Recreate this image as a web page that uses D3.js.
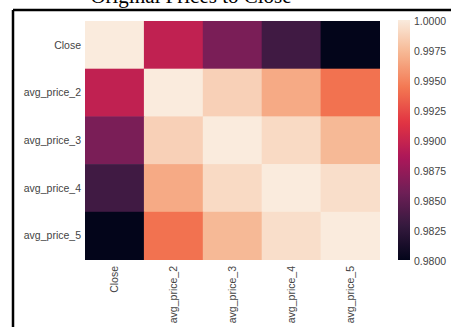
<!DOCTYPE html>
<html><head><meta charset="utf-8">
<script src="https://cdn.jsdelivr.net/npm/d3@7"></script>
<style>body{margin:0;background:#fff}svg{display:block}</style>
</head><body>
<svg id="c" width="451" height="327"></svg>
<script>
const rowLabels = ["Close","avg_price_2","avg_price_3","avg_price_4","avg_price_5"];
const colLabels = ["Close","avg_price_2","avg_price_3","avg_price_4","avg_price_5"];
const rowClose = [1.0000, 0.9896, 0.9862, 0.9834, 0.9800];
const rowAvg2  = [0.9896, 1.0000, 0.9986, 0.9967, 0.9941];
const rowAvg3  = [0.9862, 0.9986, 1.0000, 0.9991, 0.9974];
const rowAvg4  = [0.9834, 0.9967, 0.9991, 1.0000, 0.9993];
const rowAvg5  = [0.9800, 0.9941, 0.9974, 0.9993, 1.0000];
const matrix = [rowClose,rowAvg2,rowAvg3,rowAvg4,rowAvg5];
const cbTicks = [0.9800,0.9825,0.9850,0.9875,0.9900,0.9925,0.9950,0.9975,1.0000];
const title = "Original Prices to Close";
const rocketStops = ["#03051A","#35193E","#701F57","#AD1759","#E13342","#F37651","#F6B48F","#FAEBDD"];

const svg = d3.select("#c");
const vmin = 0.98, vmax = 1.0;
const rocket = d3.scaleLinear().domain(d3.range(rocketStops.length).map(i=>i/(rocketStops.length-1))).range(rocketStops).interpolate(d3.interpolateRgb).clamp(true);
const color = v => rocket((v-vmin)/(vmax-vmin));

const x = d3.scaleBand().domain(colLabels).range([85,379.5]);
const y = d3.scaleBand().domain(rowLabels).range([21,259.5]);

// title
svg.append("text").attr("x",191).attr("y",3).attr("text-anchor","middle")
  .attr("font-family","Liberation Serif, Times New Roman, serif").attr("font-size",21).attr("fill","#000").text(title);
// frame
svg.append("line").attr("x1",13).attr("x2",460).attr("y1",10).attr("y2",10).attr("stroke","#000").attr("stroke-width",2.5);
svg.append("line").attr("x1",13).attr("x2",13).attr("y1",10).attr("y2",340).attr("stroke","#000").attr("stroke-width",2.5);

const cells = [];
matrix.forEach((r,i)=>r.forEach((v,j)=>cells.push({r:rowLabels[i],c:colLabels[j],v})));
svg.append("g").selectAll("rect").data(cells).join("rect")
  .attr("x",d=>x(d.c)).attr("y",d=>y(d.r)).attr("width",x.bandwidth()+0.5).attr("height",y.bandwidth()+0.5)
  .attr("fill",d=>color(d.v));

const font = "Liberation Sans, Arial, sans-serif";
svg.append("g").selectAll("text").data(rowLabels).join("text")
  .attr("x",81).attr("y",d=>y(d)+y.bandwidth()/2).attr("dy","0.35em").attr("text-anchor","end")
  .attr("font-family",font).attr("font-size",10.5).attr("fill","#444").text(d=>d);
svg.append("g").selectAll("text").data(colLabels).join("text")
  .attr("transform",d=>`translate(${x(d)+x.bandwidth()/2},266) rotate(-90)`).attr("dy","0.35em").attr("text-anchor","end")
  .attr("font-family",font).attr("font-size",10.5).attr("fill","#444").text(d=>d);

// colorbar
const cb = d3.scaleLinear().domain([vmin,vmax]).range([260,20]);
const defs = svg.append("defs");
const grad = defs.append("linearGradient").attr("id","g").attr("x1",0).attr("y1",1).attr("x2",0).attr("y2",0);
d3.range(0,1.0001,0.02).forEach(t=>grad.append("stop").attr("offset",t).attr("stop-color",rocket(t)));
svg.append("rect").attr("x",398).attr("y",cb(vmax)).attr("width",12).attr("height",cb(vmin)-cb(vmax)).attr("fill","url(#g)");
svg.append("g").selectAll("text").data(cbTicks).join("text")
  .attr("x",414).attr("y",d=>cb(d)+1.5).attr("dy","0.35em")
  .attr("font-family",font).attr("font-size",10.5).attr("fill","#444").text(d=>d.toFixed(4));
</script>
</body></html>
